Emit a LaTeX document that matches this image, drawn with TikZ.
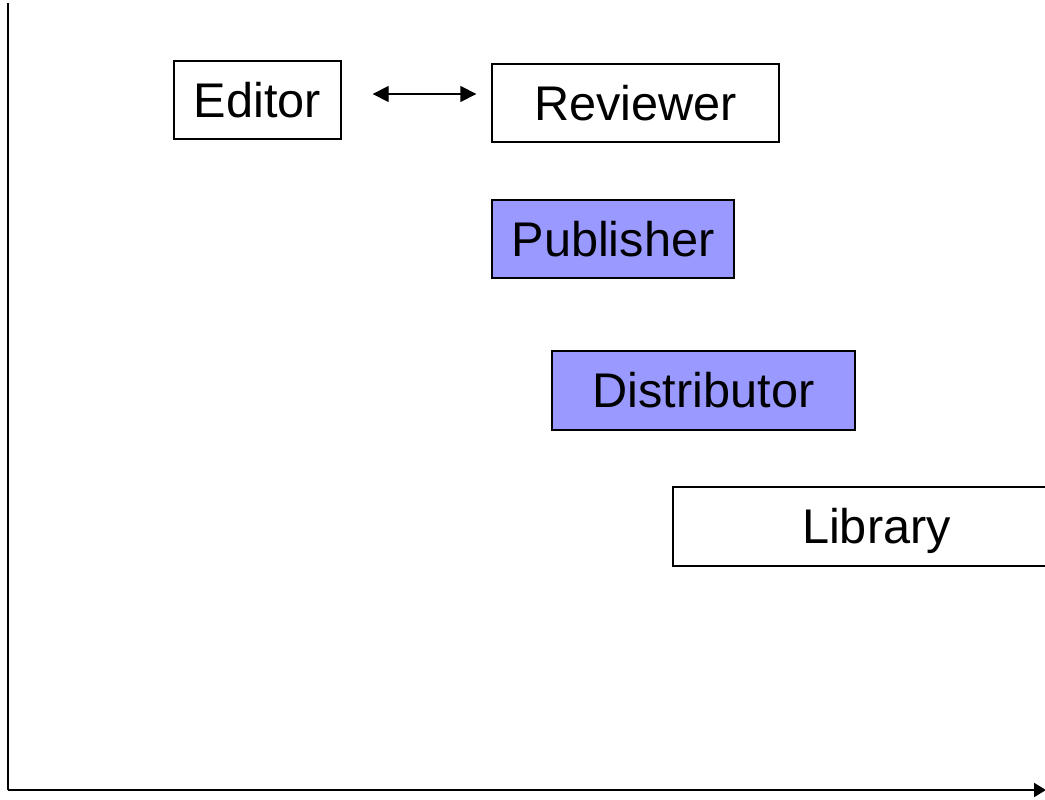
\documentclass[tikz,border=0pt]{standalone}
\usepackage{fontspec}
\setmainfont{Liberation Sans}
\usetikzlibrary{arrows.meta,calc}
\definecolor{boxblue}{RGB}{153,153,255}
\tikzset{
  entity/.style={draw=black, line width=1pt, inner sep=0pt, font=\fontsize{36.5pt}{40pt}\selectfont,
    text height=26pt, text depth=0pt, anchor=center},
  shaded/.style={entity, fill=boxblue},
  axisline/.style={line width=1.5pt},
  link/.style={line width=1pt, {Triangle[length=12pt,width=12pt]}-{Triangle[length=12pt,width=12pt]}}
}
\begin{document}
\begin{tikzpicture}[x=0.75pt,y=-0.75pt]
\clip (0,0) rectangle (1045,799);
\fill[white] (0,0) rectangle (1045,799);
\node[entity, minimum width={167*0.75pt}, minimum height={78*0.75pt}] (Editor) at (257.5,100) {Editor};
\node[entity, minimum width={287*0.75pt}, minimum height={78*0.75pt}] (Reviewer) at (635.5,103) {Reviewer};
\node[shaded, minimum width={242*0.75pt}, minimum height={78*0.75pt}] (Publisher) at (613,239) {Publisher};
\node[shaded, minimum width={303*0.75pt}, minimum height={79*0.75pt}] (Distributor) at (703.5,390.5) {Distributor};
\node[entity, minimum width={407*0.75pt}, minimum height={79*0.75pt}] (Library) at (876.5,526.5) {Library};
\draw[link] ($(Editor.east)+(31,-6)$) -- ($(Reviewer.west)+(-15,-9)$);
\coordinate (ytop) at (8,3);
\coordinate (origin) at (8,790);
\coordinate (xend) at (1046,790);
\draw[axisline] (ytop) -- (origin);
\draw[axisline, -{Triangle[length=9pt,width=10.5pt]}] (origin) -- (xend);
\end{tikzpicture}
\end{document}
